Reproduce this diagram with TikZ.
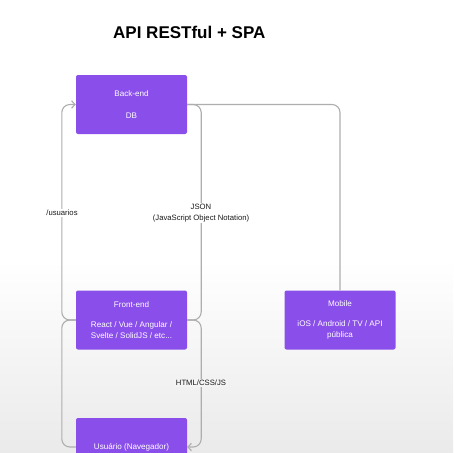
\documentclass[tikz,border=0pt]{standalone}
\usepackage{fontspec}
\setmainfont{Liberation Sans}
\setsansfont{Liberation Sans}
\usepackage{xcolor}
\usepackage{tikz}
\usetikzlibrary{calc,arrows.meta}
\definecolor{bg}{HTML}{FFFFFF}
\definecolor{bglow}{HTML}{EAEAEA}
\definecolor{card}{HTML}{8A4FEA}
\definecolor{wire}{HTML}{AEAEAE}
\definecolor{ink}{HTML}{1A1A1A}
\tikzset{
  box/.style={fill=card, rounded corners=2pt, minimum width=111pt, minimum height=59pt,
    text=white, font=\fontsize{8.1}{11.5}\selectfont, align=center, inner sep=0pt},
  conn/.style={draw=wire, line width=1.1pt, rounded corners=8pt},
  tip/.style={-{Straight Barb[length=3.5pt,width=7.5pt,line width=1.1pt]}},
  lab/.style={text=ink, font=\fontsize{7.7}{11}\selectfont, align=center, inner sep=1.5pt},
}

\begin{document}
\begin{tikzpicture}[x=1pt,y=-1pt]
  \useasboundingbox (0,0) rectangle (453,453);
  \clip (0,0) rectangle (453,453);
  \fill[bg] (0,0) rectangle (453,260);
  \shade[top color=bg, bottom color=bglow] (0,260) rectangle (453,453);
  % title
  \node[anchor=west, text=black, font=\fontsize{17}{20}\selectfont\bfseries, inner sep=0pt]
    (title) at (113,32) {API RESTful + SPA};
  % boxes
  \node[box] (be) at (131.5,104.5) {Back-end\\[10pt]DB};
  \node[box] (fe) at (131.5,320) {Front-end\\[8.5pt]React / Vue / Angular /\\Svelte / SolidJS / etc...};
  \node[box] (mob) at (340,320) {Mobile\\[8.5pt]iOS / Android / TV / API\\pública};
  \node[box, minimum height=58pt] (usr) at (131.5,447) {Usuário (Navegador)};
  % connectors
  \draw[conn, tip] (fe.west) -- ++(-14,0) |- (be.west);
  \draw[conn] (fe.west) -- ++(-14,0) |- (usr.west);
  \draw[conn] (be.east) -- ++(14,0) |- (fe.east);
  \draw[conn] (be.east) -| (mob.north);
  \draw[conn, tip] (fe.east) -- ++(14,0) |- (usr.east);
  % labels
  \node[lab, fill=bg] (lusr) at (62,213) {/usuarios};
  \node[lab, fill=bg] (ljson) at (201,213) {JSON\\(JavaScript Object Notation)};
  \node[lab, fill=bglow!50!bg] (lhtml) at (201,383) {HTML/CSS/JS};
\end{tikzpicture}
\end{document}
